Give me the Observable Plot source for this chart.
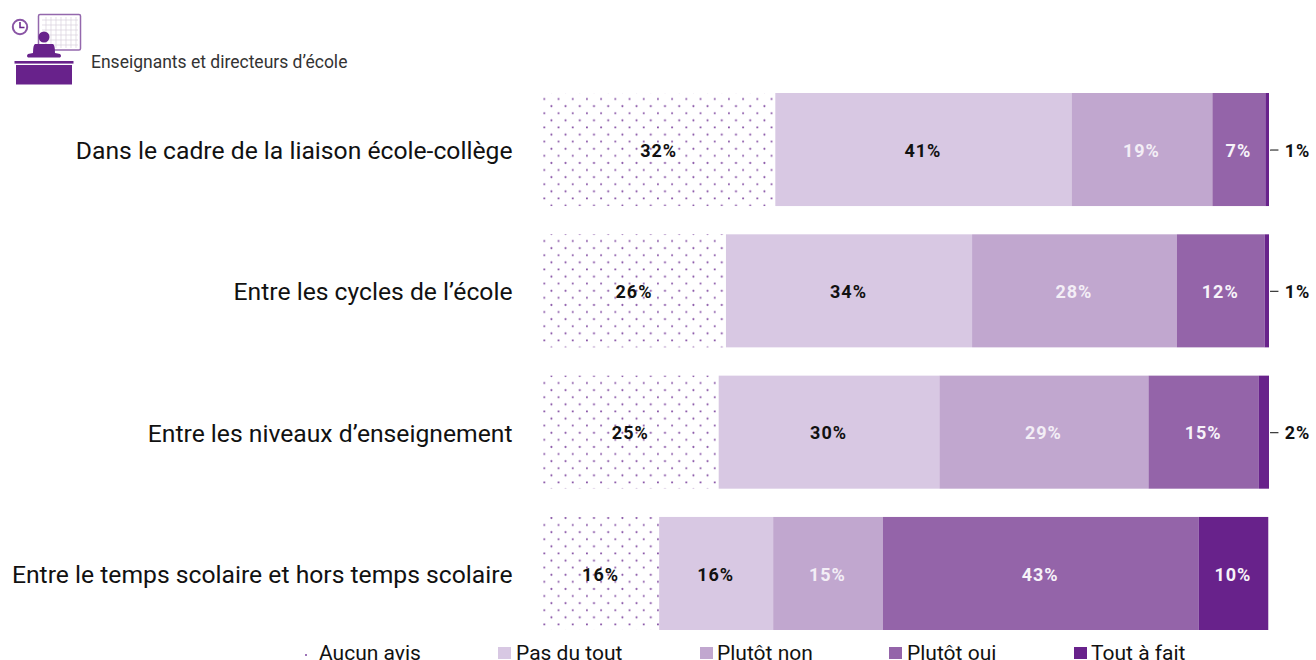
<!DOCTYPE html>
<html lang="fr"><head><meta charset="utf-8">
<script src="https://cdn.jsdelivr.net/npm/d3@7"></script>
<script src="https://cdn.jsdelivr.net/npm/@observablehq/plot@0.6"></script>
<style>
html,body{margin:0;padding:0;background:#fff;width:1316px;height:660px;overflow:hidden;font-family:Roboto,sans-serif}
#head{position:relative;height:88px}
#head svg{position:absolute;left:10px;top:12px}
#head span{position:absolute;left:91px;top:52px;font-size:17.5px;line-height:20px;color:#333}
#chart svg{display:block}
.lg{position:absolute;top:641px;font-size:21px;line-height:25px;color:#111;white-space:nowrap}
.sw{position:absolute;top:647px;width:13px;height:12px}
</style></head><body>
<div id="head">
<svg width="74" height="76" viewBox="0 0 74 76">
 <rect x="28.500" y="2.500" width="42" height="35.500" rx="1.500" fill="#fff" stroke="#9468ad" stroke-width="1.500"/>
 <path d="M32 8H68M32 13H68M32 18H68M32 23H68M32 28H68M32 33H68M36 5V36M41 5V36M46 5V36M51 5V36M56 5V36M61 5V36M66 5V36" stroke="#d8d0dc" stroke-width=".7" fill="none"/>
 <circle cx="10" cy="15" r="7.200" fill="#fff" stroke="#8a55a5" stroke-width="2"/>
 <path d="M10 10V15.500H14.500" stroke="#68228b" stroke-width="1.500" fill="none"/>
 <circle cx="34" cy="25" r="5.500" fill="#68228b"/>
 <path d="M25 32H43Q45 33 45 41L50 42Q52 44 50 45.500H18Q16 44 18 42L23 41Q23 33 25 32Z" fill="#68228b"/>
 <rect x="4.500" y="49" width="59" height="2.600" fill="#68228b"/>
 <rect x="6" y="53" width="56" height="19.500" fill="#68228b"/>
</svg>
<span>Enseignants et directeurs d’école</span>
</div>
<div id="chart"></div>
<script>
const categories = [
  "Dans le cadre de la liaison école-collège",
  "Entre les cycles de l’école",
  "Entre les niveaux d’enseignement",
  "Entre le temps scolaire et hors temps scolaire"
];
const seriesNames = ["Aucun avis", "Pas du tout", "Plutôt non", "Plutôt oui", "Tout à fait"];
const aucunAvis = [32, 25.2, 24.2, 16];
const pasDuTout = [40.8, 33.9, 30.4, 15.7];
const plutotNon = [19.4, 28.2, 28.8, 15.1];
const plutotOui = [7.3, 12.1, 15.2, 43.5];
const toutAFait = [0.5, 0.6, 1.4, 9.6];
const aucunAvisLabels = ["32%", "26%", "25%", "16%"];
const pasDuToutLabels = ["41%", "34%", "30%", "16%"];
const plutotNonLabels = ["19%", "28%", "29%", "15%"];
const plutotOuiLabels = ["7%", "12%", "15%", "43%"];
const toutAFaitLabels = ["1%", "1%", "2%", "10%"];
const colors = ["url(#dots)", "#d8c8e3", "#c1a7cf", "#9464a9", "#68228b"];
const labelColors = ["#111", "#111", "#f3eef6", "#f7f3f9", "#f7f3f9"];

const values = [aucunAvis, pasDuTout, plutotNon, plutotOui, toutAFait];
const labels = [aucunAvisLabels, pasDuToutLabels, plutotNonLabels, plutotOuiLabels, toutAFaitLabels];
const rows = seriesNames.flatMap((s, i) => categories.map((c, j) => ({
  category: c, series: s, value: values[i][j], label: labels[i][j], labelColor: labelColors[i],
  outside: values[i][j] < 3
})));
const outsideRows = rows.filter(d => d.outside);

const patternDefs = () => {
  const ns = "http://www.w3.org/2000/svg";
  const defs = document.createElementNS(ns, "defs");
  defs.innerHTML = `<pattern id="dots" patternUnits="userSpaceOnUse" x="3.8" y="4" width="14.2" height="14.2">
    <circle cx="0.9" cy="7" r="1" fill="#8a57a8"/>
    <circle cx="8" cy="14.1" r="1" fill="#8a57a8"/>
    <circle cx="8" cy="0.1" r="1" fill="#8a57a8"/>
  </pattern>`;
  return defs;
};

const chart = Plot.plot({
  width: 1316, height: 548,
  marginLeft: 543, marginRight: 47, marginTop: 5, marginBottom: 6,
  style: {fontFamily: "Roboto, sans-serif", background: "#fff", color: "#111"},
  x: {domain: [0, 100], axis: null},
  y: {domain: categories, paddingInner: 0.2, paddingOuter: 0, round: false, label: null},
  color: {domain: seriesNames, range: colors},
  marks: [
    patternDefs,
    Plot.axisY({tickSize: 0, tickPadding: 31, fontSize: 24.7, dy: 1, label: null, color: "#111"}),
    Plot.barX(rows, Plot.stackX({x: "value", y: "category", fill: "series", order: null})),
    Plot.text(rows, Plot.stackX({
      x: "value", y: "category", order: null, filter: d => !d.outside,
      text: "label", fill: "labelColor", fontSize: 18, fontWeight: 700, dy: 1, dx: -1
    })),
    Plot.ruleY(outsideRows, {y: "category", x1: () => 100.15, x2: () => 101.3, stroke: "#333", strokeWidth: 1.2}),
    Plot.text(outsideRows, {
      x: () => 100, y: "category", text: "label", dx: 28, dy: 1, fontSize: 18, fontWeight: 700, fill: "#111"
    })
  ]
});
chart.querySelectorAll("g[aria-label='text'] text").forEach(t => t.style.letterSpacing = "1px");
document.getElementById("chart").appendChild(chart);

const legendItems = [[319, 303, null], [516, 498, colors[1]], [717, 700, colors[2]], [907, 889, colors[3]], [1091, 1074, colors[4]]];
seriesNames.forEach((name, i) => {
  const [tx, sx, col] = legendItems[i];
  const t = document.createElement("div");
  t.className = "lg"; t.style.left = tx + "px"; t.textContent = name;
  document.body.appendChild(t);
  const s = document.createElement("div");
  s.className = "sw"; s.style.left = sx + "px";
  if (col) s.style.background = col;
  else { s.style.cssText += "width:2px;height:2px;top:654px;left:305px;border-radius:50%;background:#7d46a0"; }
  document.body.appendChild(s);
});
</script>
</body></html>
